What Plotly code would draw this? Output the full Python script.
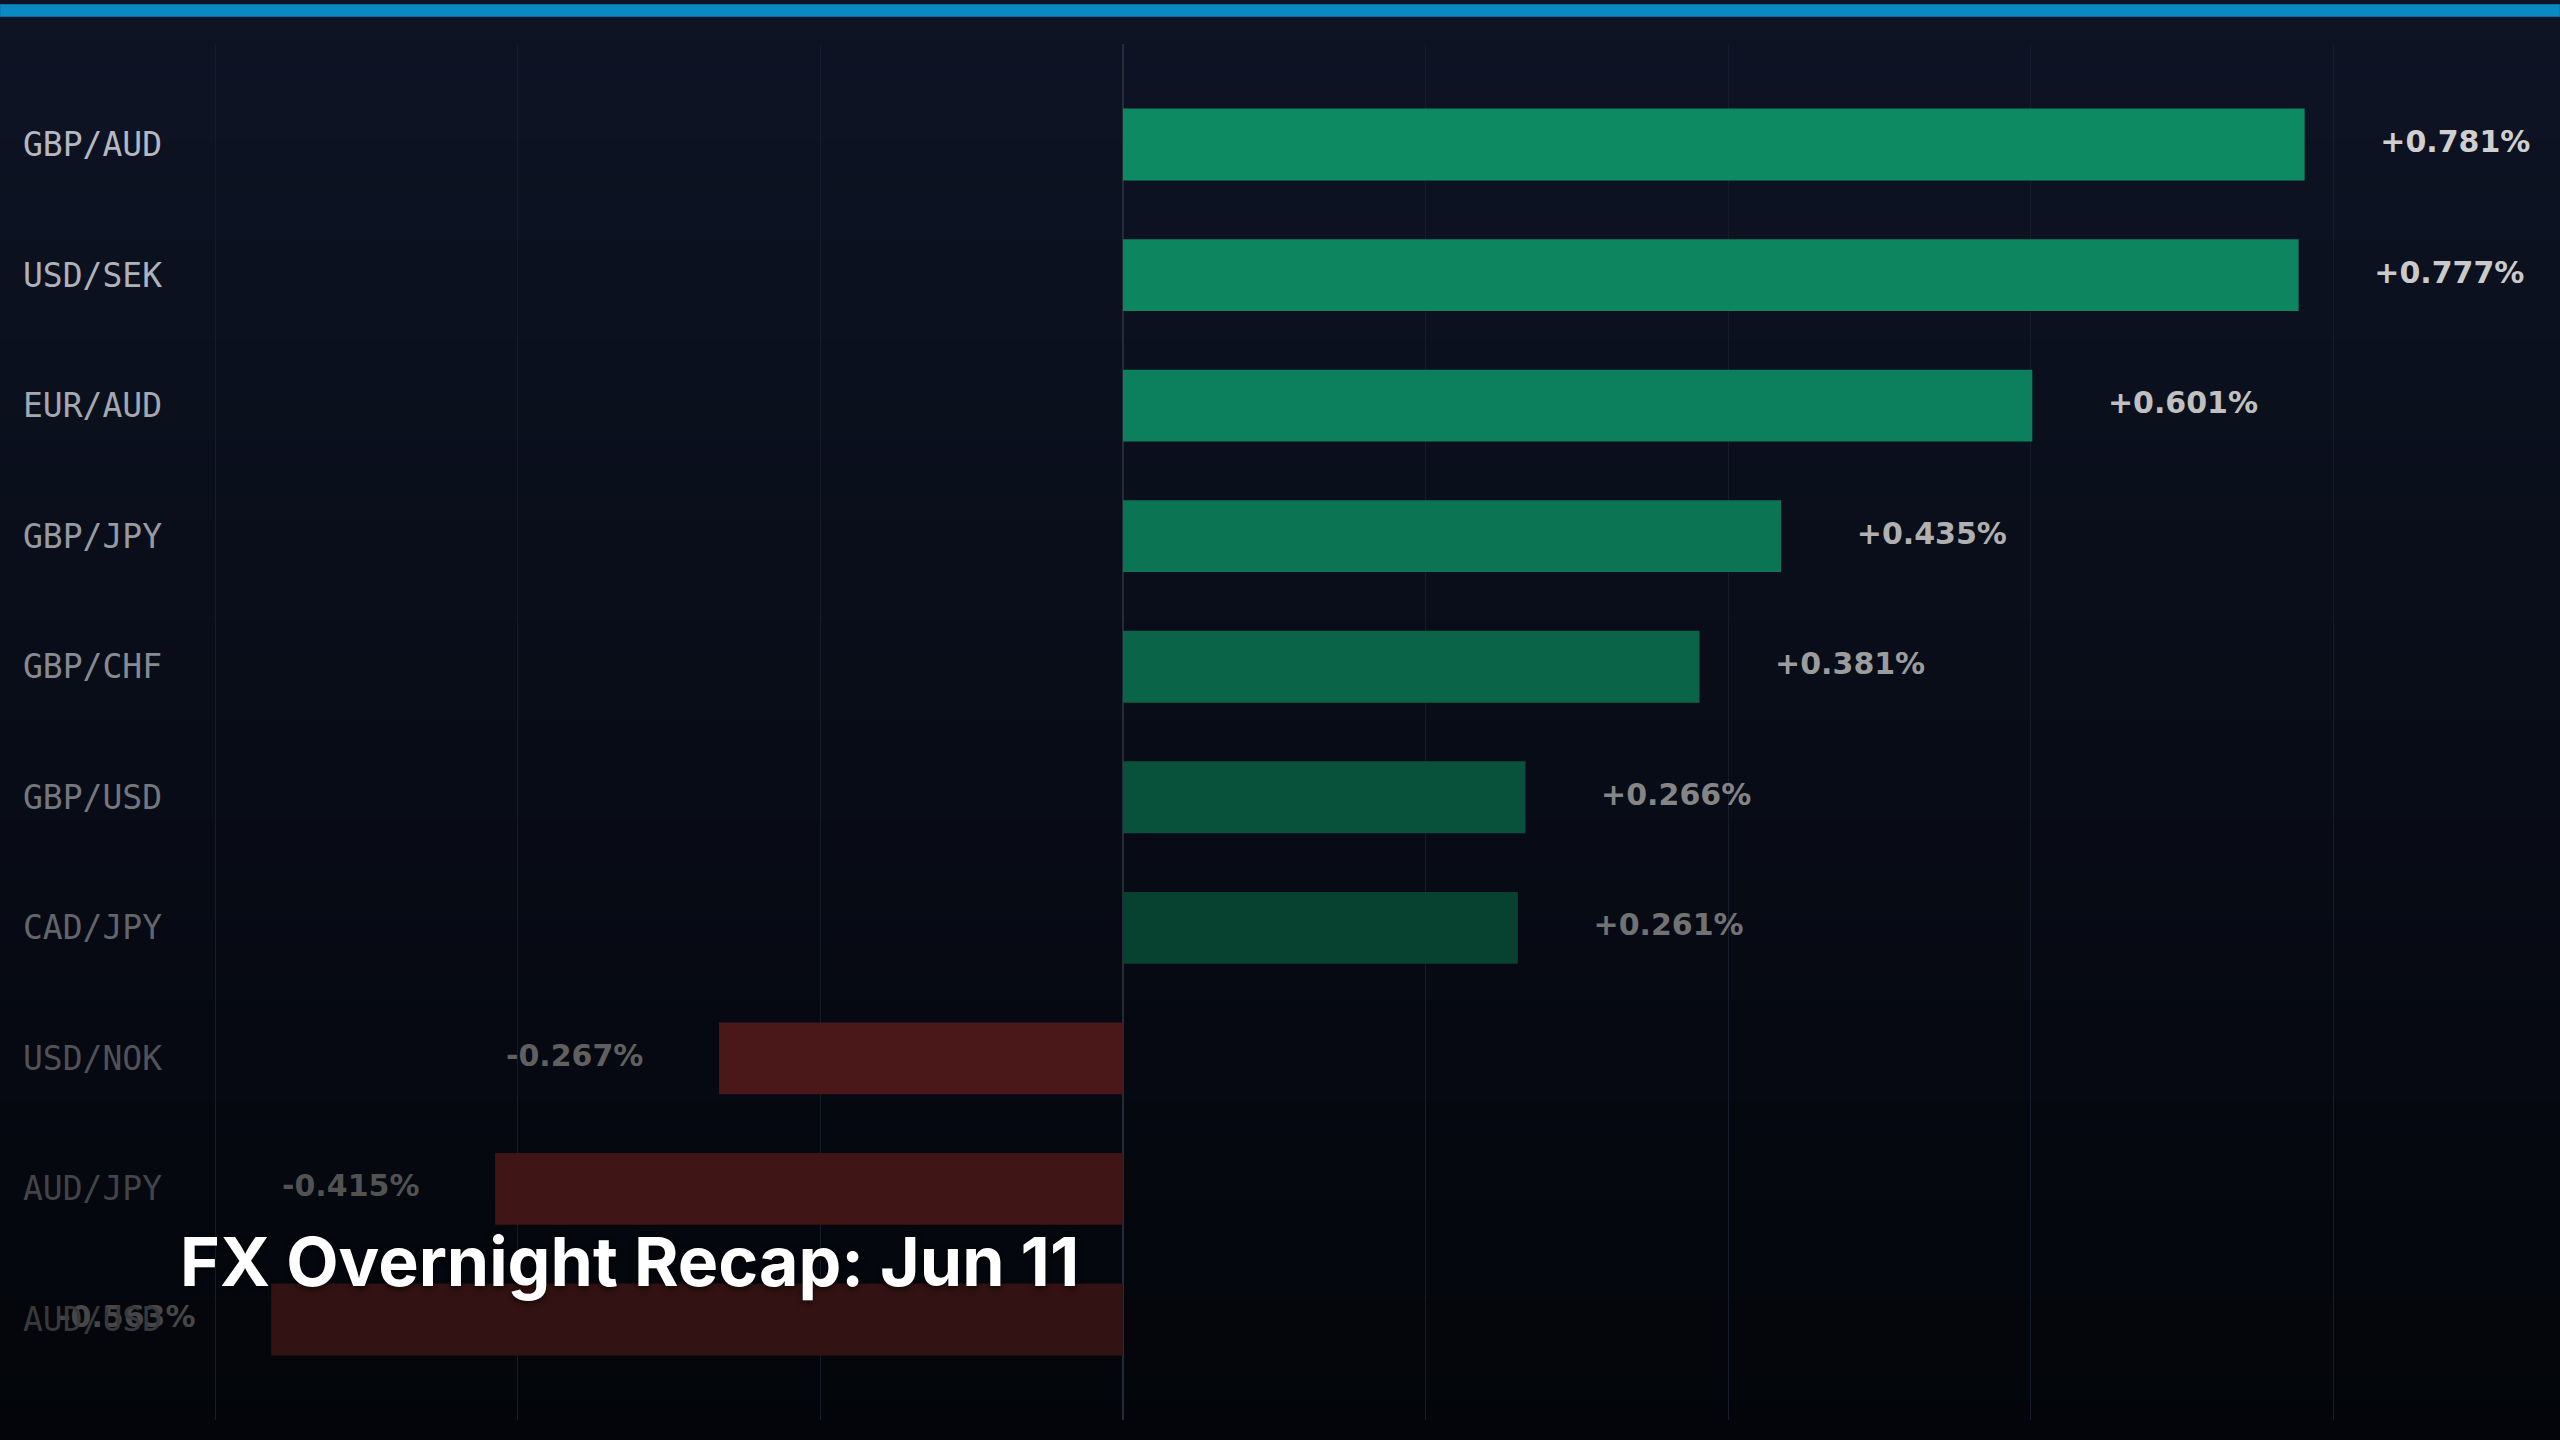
import plotly.graph_objects as go

# ---------------- data ----------------
pairs = ["GBP/AUD", "USD/SEK", "EUR/AUD", "GBP/JPY", "GBP/CHF",
         "GBP/USD", "CAD/JPY", "USD/NOK", "AUD/JPY", "AUD/USD"]
changes = [0.781, 0.777, 0.601, 0.435, 0.381, 0.266, 0.261, -0.267, -0.415, -0.563]
value_labels = ["+0.781%", "+0.777%", "+0.601%", "+0.435%", "+0.381%",
                "+0.266%", "+0.261%", "-0.267%", "-0.415%", "-0.563%"]
title_text = "FX Overnight Recap: Jun 11"
x_ticks = [-0.6, -0.4, -0.2, 0.0, 0.2, 0.4, 0.6, 0.8]

# ---------------- styles ----------------
bar_colors = ["#0e8a62", "#0d8660", "#0c805c", "#0b7453", "#0a6548",
              "#08523b", "#07412f", "#4a1819", "#3f1516", "#331213"]
pair_colors = ["#b4b8c0", "#aeb2ba", "#a4a8b0", "#969aa2", "#868a92",
               "#74777e", "#62656b", "#505257", "#434448", "#38393c"]
label_colors = ["#cfcfcf", "#cacaca", "#c0c0c0", "#b0b0b0", "#9c9c9c",
                "#858585", "#727272", "#606060", "#525252", "#474747"]

W, H = 2560, 1440
ML, MR, MT, MB = 180, 20, 44, 20
PW, PH = W - ML - MR, H - MT - MB
ZERO_PX, PX_PER_UNIT = 1123, 1513.0
x_range = [(ML - ZERO_PX) / PX_PER_UNIT, (W - MR - ZERO_PX) / PX_PER_UNIT]
label_offset = 0.05

idx = list(range(len(pairs)))

fig = go.Figure()
fig.add_trace(go.Bar(
    x=changes, y=idx, orientation="h", width=0.55,
    marker=dict(color=bar_colors, line=dict(width=0)),
    hoverinfo="skip", showlegend=False,
))
fig.add_trace(go.Scatter(
    x=[v + (label_offset if v >= 0 else -label_offset) for v in changes],
    y=idx, mode="text", text=value_labels,
    textposition=["middle right" if v >= 0 else "middle left" for v in changes],
    textfont=dict(family="DejaVu Sans", size=30, color=label_colors, weight="bold"),
    hoverinfo="skip", showlegend=False, cliponaxis=False,
))

# background gradient
def lerp_hex(c1, c2, t):
    a = [int(c1[i:i + 2], 16) for i in (1, 3, 5)]
    b = [int(c2[i:i + 2], 16) for i in (1, 3, 5)]
    return "#%02x%02x%02x" % tuple(round(a[k] + (b[k] - a[k]) * t) for k in range(3))

def py(px):
    return (H - MB - px) / PH

def pxx(px):
    return (px - ML) / PW

shapes = []
n_bands = 72
for i in range(n_bands):
    y0 = H * i / n_bands
    y1 = H * (i + 1) / n_bands + 1
    shapes.append(dict(type="rect", xref="paper", yref="paper",
                       x0=pxx(0), x1=pxx(W), y0=py(y1), y1=py(y0),
                       fillcolor=lerp_hex("#0e1425", "#03050a", (i + 0.5) / n_bands),
                       line=dict(width=0), layer="below"))
# top accent bar
shapes.append(dict(type="rect", xref="paper", yref="paper",
                   x0=pxx(0), x1=pxx(W), y0=py(16.5), y1=py(4.5),
                   fillcolor="#0b89c4", line=dict(color="#0a6f9f", width=1), layer="above"))

fig.update_layout(
    width=W, height=H,
    margin=dict(l=ML, r=MR, t=MT, b=MB),
    paper_bgcolor="#03050a", plot_bgcolor="rgba(0,0,0,0)",
    shapes=shapes, bargap=0.45,
    title=dict(text="<b>" + title_text + "</b>", xref="container", yref="container",
               x=180 / W, y=1 - 1262 / H, xanchor="left", yanchor="middle",
               font=dict(family="Inter", size=68, color="#ffffff",
                         shadow="0px 2px 6px rgba(0,0,0,0.7)")),
    xaxis=dict(range=x_range, tickvals=x_ticks, showticklabels=False,
               showgrid=True, gridcolor="#161c29", gridwidth=1,
               zeroline=True, zerolinecolor="#252b37", zerolinewidth=2,
               showline=False, fixedrange=True),
    yaxis=dict(range=[len(pairs) - 1 + 0.77, -0.77],
               tickvals=idx,
               ticktext=['<span style="color:%s">%s</span>' % (c, p)
                         for p, c in zip(pairs, pair_colors)],
               tickfont=dict(family="DejaVu Sans Mono", size=33, color="#b4b8c0"),
               ticks="", ticklabelstandoff=17, showgrid=False, zeroline=False,
               showline=False, fixedrange=True),
)

fig.write_html("out.html")
